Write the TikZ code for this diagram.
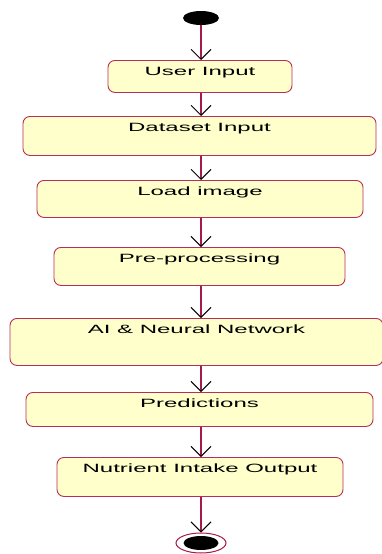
\documentclass[tikz,border=0pt]{standalone}
\usepackage{fontspec}
\setmainfont{Liberation Sans}[FakeStretch=2.0]
\usetikzlibrary{arrows.meta,shapes.geometric}
\definecolor{flowline}{RGB}{165,25,75}
\definecolor{boxline}{RGB}{185,45,90}
\definecolor{boxfill}{RGB}{255,255,204}
\begin{document}
\begin{tikzpicture}[x=1pt,y=-1pt,
  act/.style 2 args={draw=boxline, fill=boxfill, line width=0.9pt,
    rounded corners=7pt, minimum width=#1, inner xsep=0pt, inner ysep=0pt,
    text height=15pt, text depth=#2, anchor=north,
    font=\fontsize{12}{14}\selectfont},
  flow/.style={draw=flowline, line width=1.2pt,
    -{Straight Barb[black,length=10pt,width=20pt,line width=1pt]}},
  startdot/.style={ellipse, fill=black, inner sep=0pt,
    minimum width=36pt, minimum height=14pt},
]
\useasboundingbox (0,0) rectangle (382,554);

% vertical spine of the flow
\coordinate (spine) at (201,0);

% initial state
\node[startdot] (start) at (201,18) {};

% activities
\node[act={184pt}{17pt}] (user)  at (200,60)   {User Input};
\node[act={353pt}{24pt}] (data)  at (199.5,116) {Dataset Input};
\node[act={326pt}{22pt}] (load)  at (200,180)  {Load image};
\node[act={291pt}{23pt}] (prep)  at (199.5,247) {Pre-processing};
\node[act={373pt}{32pt}] (ai)    at (196.5,318) {AI \& Neural Network};
\node[act={347pt}{19pt}] (pred)  at (199.5,392) {Predictions};
\node[act={286pt}{24pt}] (nutr)  at (200,457)  {Nutrient Intake Output};

% final state
\node[ellipse, draw=flowline, fill=white, line width=1pt, inner sep=0pt,
      minimum width=50pt, minimum height=20pt] (stop) at (201,543) {};
\node[startdot, minimum width=35pt, minimum height=14pt] (stopdot) at (stop) {};

% transitions
\draw[flow] (start.south) -- (user.north -| spine);
\draw[flow] (user.south -| spine) -- (data.north -| spine);
\draw[flow] (data.south -| spine) -- (load.north -| spine);
\draw[flow] (load.south -| spine) -- (prep.north -| spine);
\draw[flow] (prep.south -| spine) -- (ai.north -| spine);
\draw[flow] (ai.south -| spine) -- (pred.north -| spine);
\draw[flow] (pred.south -| spine) -- (nutr.north -| spine);
\draw[flow] (nutr.south -| spine) -- (stop.north);
\end{tikzpicture}
\end{document}
